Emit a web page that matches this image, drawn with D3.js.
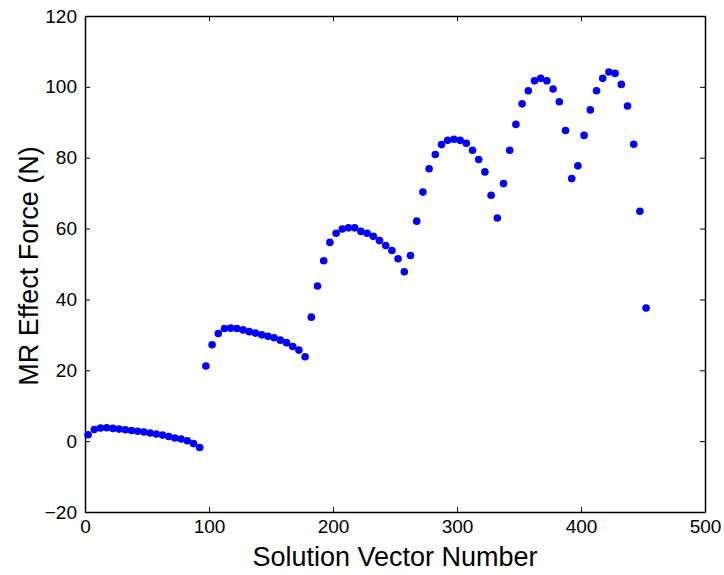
<!DOCTYPE html>
<html>
<head>
<meta charset="utf-8">
<script src="https://cdn.jsdelivr.net/npm/d3@7"></script>
<style>
  body { margin: 0; background: #fff; }
  svg { display: block; font-family: "Liberation Sans", Arial, sans-serif; }
  .axis path, .axis line { stroke: #000; }
  .axis text { fill: #000; font-size: 19px; }
</style>
</head>
<body>
<svg id="chart"></svg>
<script>
// solution vector numbers (x)
const vectorNumbers = [
  2.5, 7.5, 12.5, 17.5, 22.5, 27.5, 32.5, 37.5, 42.5, 47.5,
  52.5, 57.5, 62.5, 67.5, 72.5, 77.5, 82.5, 87.5, 92.5, 97.5,
  102.5, 107.5, 112.5, 117.5, 122.5, 127.5, 132.5, 137.5, 142.5, 147.5,
  152.5, 157.5, 162.5, 167.5, 172.5, 177.5, 182.5, 187.5, 192.5, 197.5,
  202.5, 207.5, 212.5, 217.5, 222.5, 227.5, 232.5, 237.5, 242.5, 247.5,
  252.5, 257.5, 262.5, 267.5, 272.5, 277.5, 282.5, 287.5, 292.5, 297.5,
  302.5, 307.5, 312.5, 317.5, 322.5, 327.5, 332.5, 337.5, 342.5, 347.5,
  352.5, 357.5, 362.5, 367.5, 372.5, 377.5, 382.5, 387.5, 392.5, 397.5,
  402.5, 407.5, 412.5, 417.5, 422.5, 427.5, 432.5, 437.5, 442.5, 447.5,
  452.5
];

// MR effect force (N)
const forces = [
  1.8, 3.3, 3.7, 3.8, 3.6, 3.4, 3.2, 3.0, 2.8, 2.6,
  2.3, 2.0, 1.7, 1.3, 0.9, 0.6, 0.1, -0.7, -1.8,
  21.2, 27.2, 30.4, 31.8, 31.9, 31.8, 31.4, 30.9, 30.5, 30.0,
  29.6, 29.2, 28.5, 27.8, 26.7, 25.7, 23.8,
  35.0, 43.8, 50.9, 56.1, 58.7, 59.9, 60.2, 60.2, 59.2, 58.7,
  57.8, 56.6, 55.2, 53.8, 51.5, 47.8,
  52.4, 62.1, 70.3, 76.9, 80.9, 83.7, 84.9, 85.2, 84.9, 84.1,
  82.1, 79.5, 76.0, 69.4, 63.0,
  72.7, 82.1, 89.4, 95.2, 98.9, 101.7, 102.4, 101.7, 99.4, 95.8,
  87.7, 74.1,
  77.7, 86.3, 93.5, 98.9, 102.4, 104.2, 103.8, 100.7, 94.6, 83.8,
  64.9, 37.6
];

const xTicks = [0, 100, 200, 300, 400, 500];
const yTicks = [-20, 0, 20, 40, 60, 80, 100, 120];

const W = 724, H = 575;
const margin = { top: 16, right: 19, bottom: 63, left: 85 },
  width = W - margin.left - margin.right,
  height = H - margin.top - margin.bottom;

const svg = d3.select("#chart").attr("width", W).attr("height", H);
const g = svg.append("g")
  .attr("transform", "translate(" + margin.left + "," + margin.top + ")");

const x = d3.scaleLinear().domain([0, 500]).range([0, width]);
const y = d3.scaleLinear().domain([-20, 120]).range([height, 0]);

// box with inward ticks on every side (matlab style)
g.append("g").attr("class", "axis")
  .attr("transform", "translate(0," + height + ")")
  .call(d3.axisBottom(x).tickValues(xTicks).tickSizeInner(-5).tickSizeOuter(0).tickPadding(8));
g.append("g").attr("class", "axis")
  .call(d3.axisTop(x).tickValues(xTicks).tickSizeInner(-5).tickSizeOuter(0).tickFormat(""));
g.append("g").attr("class", "axis")
  .call(d3.axisLeft(y).tickValues(yTicks).tickSizeInner(-5).tickSizeOuter(0).tickPadding(8));
g.append("g").attr("class", "axis")
  .attr("transform", "translate(" + width + ",0)")
  .call(d3.axisRight(y).tickValues(yTicks).tickSizeInner(-5).tickSizeOuter(0).tickFormat(""));

g.selectAll(".axis path").attr("stroke-width", 1.5);

// points
g.selectAll("circle.pt")
  .data(forces)
  .join("circle")
  .attr("class", "pt")
  .attr("cx", (d, i) => x(vectorNumbers[i]))
  .attr("cy", d => y(d))
  .attr("r", 3.8)
  .attr("fill", "#0000ff");

// axis labels
svg.append("text")
  .attr("x", margin.left + width / 2)
  .attr("y", 566)
  .attr("text-anchor", "middle")
  .attr("font-size", 27)
  .text("Solution Vector Number");

svg.append("text")
  .attr("transform", "translate(38," + (margin.top + height / 2 + 2) + ") rotate(-90)")
  .attr("text-anchor", "middle")
  .attr("font-size", 27)
  .text("MR Effect Force (N)");
</script>
</body>
</html>
